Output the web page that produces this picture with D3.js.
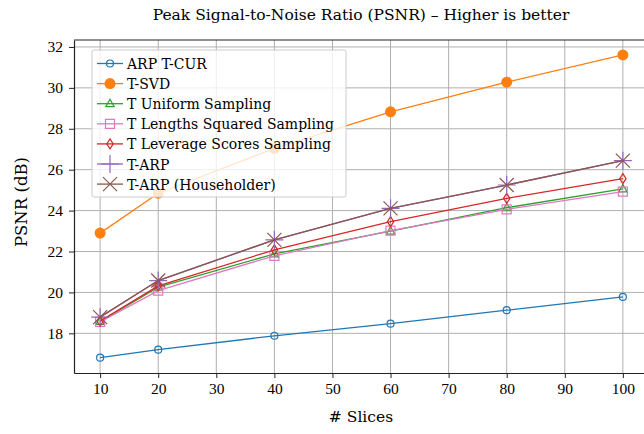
<!DOCTYPE html>
<html>
<head>
<meta charset="utf-8">
<script src="https://d3js.org/d3.v7.min.js"></script>
<style>
  body { margin: 0; background: #fff; }
  text { font-family: "DejaVu Serif", "Liberation Serif", serif; fill: #000; }
</style>
</head>
<body>
<div id="vis"></div>
<script>
// data
var slices = [10, 20, 40, 60, 80, 100]
var arpTcur = [16.81, 17.20, 17.88, 18.47, 19.13, 19.78]
var tSvd = [22.90, 24.85, 27.04, 28.83, 30.28, 31.61]
var tUniform = [18.58, 20.26, 21.88, 23.00, 24.14, 25.06]
var tLengthsSq = [18.56, 20.09, 21.79, 23.02, 24.06, 24.93]
var tLeverage = [18.60, 20.32, 22.08, 23.46, 24.60, 25.56]
var tArp = [18.79, 20.58, 22.57, 24.11, 25.25, 26.44]
var tArpHouse = [18.79, 20.58, 22.57, 24.11, 25.25, 26.44]

var seriesNames = ["ARP T-CUR", "T-SVD", "T Uniform Sampling", "T Lengths Squared Sampling",
                   "T Leverage Scores Sampling", "T-ARP", "T-ARP (Householder)"]
var xTicks = [10, 20, 30, 40, 50, 60, 70, 80, 90, 100]
var yTicks = [18, 20, 22, 24, 26, 28, 30, 32]

var series = [
  {name: seriesNames[0], values: arpTcur, color: "#1f77b4", marker: "circle"},
  {name: seriesNames[1], values: tSvd, color: "#ff7f0e", marker: "dot"},
  {name: seriesNames[2], values: tUniform, color: "#2ca02c", marker: "triangle"},
  {name: seriesNames[3], values: tLengthsSq, color: "#e377c2", marker: "square"},
  {name: seriesNames[4], values: tLeverage, color: "#d62728", marker: "diamond"},
  {name: seriesNames[5], values: tArp, color: "#9467bd", marker: "plus"},
  {name: seriesNames[6], values: tArpHouse, color: "#8c564b", marker: "cross"}
]

var W = 644, H = 434
var margin = {top: 40, right: -5, bottom: 61, left: 74}
var width = W - margin.left - margin.right
var height = H - margin.top - margin.bottom

var svg = d3.select("#vis").append("svg")
  .attr("width", W).attr("height", H)
  .style("display", "block")

var g = svg.append("g")
  .attr("transform", "translate(" + margin.left + "," + margin.top + ")")

var x = d3.scaleLinear().domain([5.5, 104.5]).range([0, width])
var y = d3.scaleLinear().domain([16.06, 32.34]).range([height, 0])

// grid
g.append("g").selectAll("line").data(xTicks).enter().append("line")
  .attr("x1", d => x(d)).attr("x2", d => x(d))
  .attr("y1", 0).attr("y2", height)
  .attr("stroke", "#b0b0b0").attr("stroke-width", 1)
g.append("g").selectAll("line").data(yTicks).enter().append("line")
  .attr("x1", 0).attr("x2", width)
  .attr("y1", d => y(d)).attr("y2", d => y(d))
  .attr("stroke", "#b0b0b0").attr("stroke-width", 1)

// axes
var xAxis = g.append("g")
  .attr("transform", "translate(0," + height + ")")
  .call(d3.axisBottom(x).tickValues(xTicks).tickSize(5).tickPadding(5).tickSizeOuter(0))
var yAxis = g.append("g")
  .call(d3.axisLeft(y).tickValues(yTicks).tickSize(5).tickPadding(6).tickSizeOuter(0))
;[xAxis, yAxis].forEach(a => {
  a.select(".domain").attr("stroke", "#222").attr("stroke-width", 1.2)
  a.selectAll(".tick line").attr("stroke", "#222").attr("stroke-width", 1)
  a.selectAll(".tick text").style("font-family", "Liberation Serif, serif").style("font-size", "15.5px")
})
g.append("line").attr("x1", 0).attr("x2", width).attr("y1", 0).attr("y2", 0)
  .attr("stroke", "#222").attr("stroke-width", 1.2)

// marker shapes
function markerPath(type) {
  switch (type) {
    case "circle": return "M3.5,0A3.5,3.5,0,1,1,-3.5,0A3.5,3.5,0,1,1,3.5,0Z"
    case "dot": return "M5.5,0A5.5,5.5,0,1,1,-5.5,0A5.5,5.5,0,1,1,5.5,0Z"
    case "triangle": return "M0,-4.5L4.2,3L-4.2,3Z"
    case "square": return "M-4.5,-4.5H4.5V4.5H-4.5Z"
    case "diamond": return "M0,-5L3.2,0L0,5L-3.2,0Z"
    case "plus": return "M-9,0H9M0,-9V9"
    case "cross": return "M-7,-7L7,7M7,-7L-7,7"
  }
}

var line = d3.line().x((d, i) => x(slices[i])).y(d => y(d))

series.forEach(s => {
  var sg = g.append("g")
  sg.append("path").datum(s.values)
    .attr("d", line).attr("fill", "none")
    .attr("stroke", s.color).attr("stroke-width", 1.3)
  sg.selectAll("path.m").data(s.values).enter().append("path")
    .attr("class", "m")
    .attr("transform", (d, i) => "translate(" + x(slices[i]) + "," + y(d) + ")")
    .attr("d", markerPath(s.marker))
    .attr("fill", s.marker == "dot" ? s.color : "none")
    .attr("stroke", s.color).attr("stroke-width", s.marker == "dot" ? 0 : 1.2)
})

// legend
var lg = svg.append("g").attr("transform", "translate(92,50)")
lg.append("rect")
  .attr("width", 254).attr("height", 147).attr("rx", 2)
  .attr("fill", "#fff").attr("fill-opacity", 0.8)
  .attr("stroke", "#cccccc").attr("stroke-width", 1)
series.forEach((s, i) => {
  var row = lg.append("g").attr("transform", "translate(0," + (13.5 + i * 20.1) + ")")
  row.append("line").attr("x1", 5).attr("x2", 31).attr("y1", 0).attr("y2", 0)
    .attr("stroke", s.color).attr("stroke-width", 1.3)
  row.append("path").attr("transform", "translate(18,0)")
    .attr("d", markerPath(s.marker))
    .attr("fill", s.marker == "dot" ? s.color : "none")
    .attr("stroke", s.color).attr("stroke-width", s.marker == "dot" ? 0 : 1.2)
  row.append("text").attr("x", 35).attr("y", 5.5)
    .style("font-size", "14px").text(s.name)
})

// title and labels
svg.append("text").attr("x", 361).attr("y", 20).attr("text-anchor", "middle")
  .style("font-size", "15.5px").text("Peak Signal-to-Noise Ratio (PSNR) – Higher is better")
svg.append("text").attr("x", 361).attr("y", 422).attr("text-anchor", "middle")
  .style("font-size", "15.5px").text("# Slices")
svg.append("text").attr("transform", "translate(27,202) rotate(-90)").attr("text-anchor", "middle")
  .style("font-size", "16.5px").text("PSNR (dB)")
</script>
</body>
</html>
